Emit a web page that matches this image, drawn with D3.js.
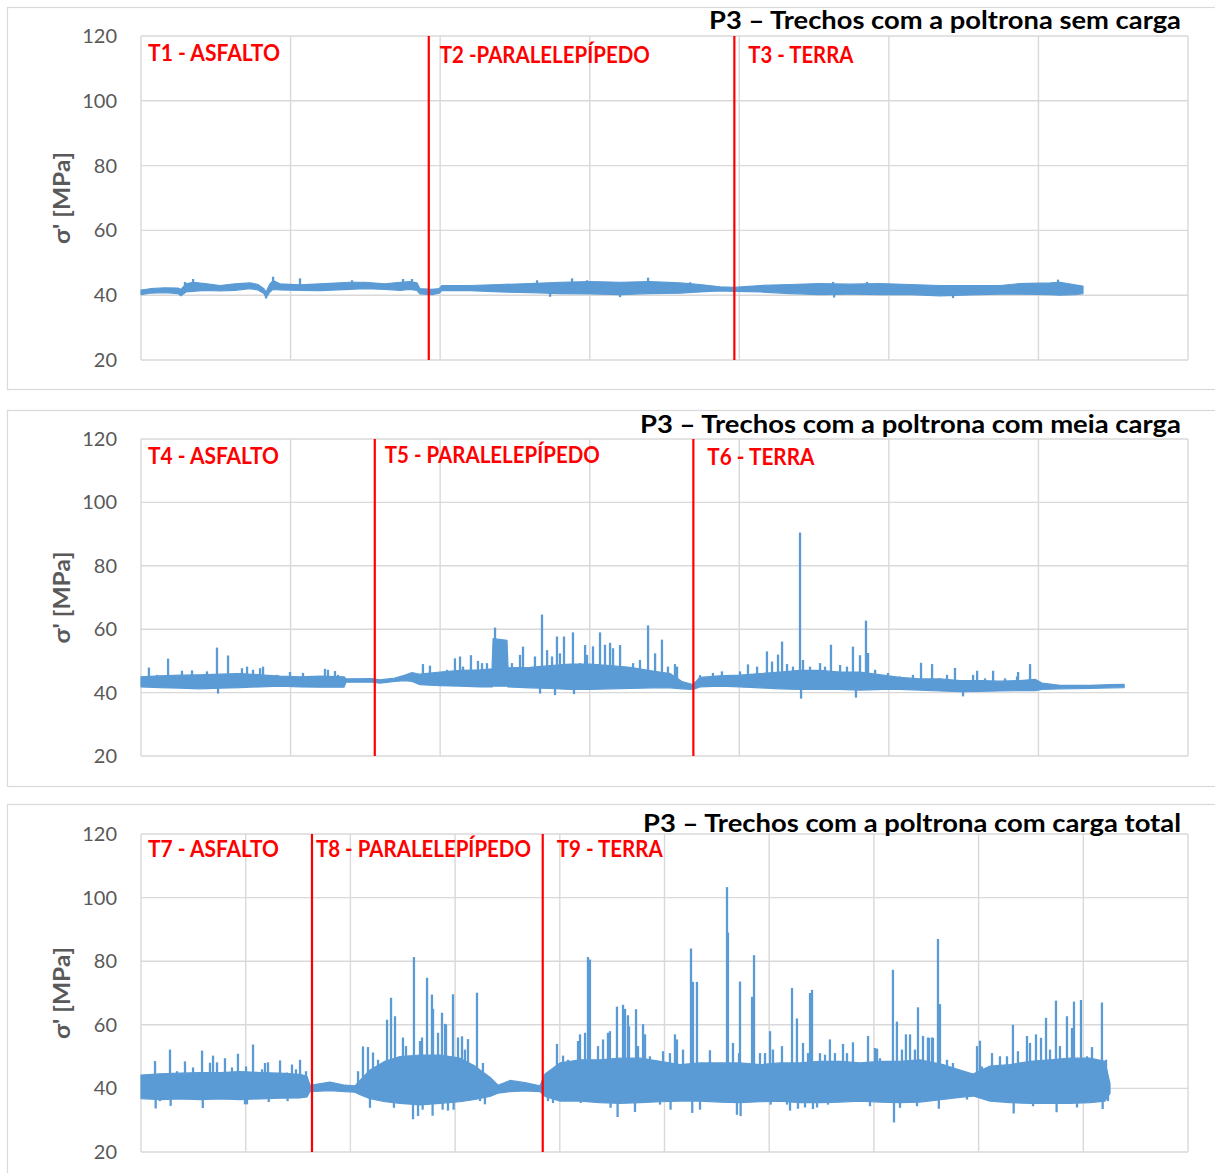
<!DOCTYPE html>
<html>
<meta charset="utf-8" />
<head>
<title>P3 - Trechos com a poltrona</title>
<style>
body { margin: 0; background: #fff; }
svg { display: block; }
svg text { font-family: Lato, "Open Sans", sans-serif; }
</style>
<script src="https://cdn.jsdelivr.net/npm/d3@7"></script>
</head>
<body>
<svg class="chart"></svg>
<script>

/*******************************
 * Data  *
 * band rows: [sample, min, max]   (dense core of the signal)
 * spike rows: [sample, peak]      (single excursions)
 *******************************/
var titles = [
  "P3 \u2013 Trechos com a poltrona sem carga",
  "P3 \u2013 Trechos com a poltrona com meia carga",
  "P3 \u2013 Trechos com a poltrona com carga total"
];
var yTicks = [20, 40, 60, 80, 100, 120];
var yLabel = "\u03c3' [MPa]";

var p1Labels = ["T1 - ASFALTO", "T2 -PARALELEPÍPEDO", "T3 - TERRA"];
var p1Cuts = [1924, 3967];
var p1Band = [
  [0,40.2,41.6],[60,40.6,42.0],[160,40.8,42.3],[247,40.5,42.2],[267,39.8,41.8],
  [301,41.0,43.5],[348,41.2,44.0],[428,41.5,43.6],[528,41.3,43.0],[628,41.5,43.5],
  [729,42.0,43.8],[782,41.6,43.3],[822,40.5,42.0],[836,39.2,41.0],[862,41.0,43.5],
  [883,41.8,44.5],[929,41.6,43.5],[1063,41.5,43.2],[1197,41.4,43.5],[1397,41.8,44.0],
  [1498,42.0,44.0],[1631,41.8,43.5],[1732,41.5,44.0],[1798,41.8,44.2],[1845,41.5,43.8],
  [1865,40.4,42.0],[1946,40.2,41.8],[1993,40.6,42.0],[2013,41.5,43.0],[2200,41.4,43.0],
  [2400,41.0,43.3],[2601,40.8,43.6],[2801,40.5,44.0],[3002,40.4,44.2],[3203,40.2,44.0],
  [3403,40.5,44.2],[3604,40.6,43.8],[3738,41.0,43.3],[3871,41.3,42.6],[3965,41.2,42.4],
  [4139,41.0,43.0],[4339,40.5,43.3],[4540,40.2,43.6],[4740,40.3,43.4],[4941,40.2,43.6],
  [5142,40.2,43.3],[5342,39.8,43.0],[5543,40.1,43.0],[5743,40.3,43.0],[5877,40.3,43.6],
  [6078,40.2,43.8],[6144,40.0,44.0],[6245,40.2,43.2],[6298,40.5,42.8]
];
var p1Spikes = [
  [294,44.1],[348,45.0],[836,39.0],[883,45.7],[1063,45.2],[1411,44.6],[1752,45.0],
  [1812,45.0],[2648,44.6],[2735,39.5],[2882,45.2],[2982,44.6],[3203,39.4],[3390,45.4],
  [3671,44.0],[4627,44.1],[4634,39.3],[4854,44.1],[5429,39.1],[6131,44.8]
];

var p2Labels = ["T4 - ASFALTO", "T5 - PARALELEPÍPEDO", "T6 - TERRA"];
var p2Cuts = [1563, 3693];
var p2Band = [
  [0,41.8,45.0],[127,41.6,45.3],[261,41.4,45.5],[394,41.2,45.6],[528,41.4,45.8],
  [662,41.6,46.0],[796,41.8,45.6],[929,42.0,45.2],[1063,41.8,45.0],[1197,41.7,45.2],
  [1357,41.7,45.0],[1371,43.3,44.3],[1544,43.3,44.4],[1598,43.0,44.0],[1698,43.5,44.6],
  [1765,43.8,45.5],[1812,43.5,46.3],[1865,42.5,45.8],[2000,42.2,46.5],[2133,42.0,47.0],
  [2267,41.8,47.2],[2347,41.8,47.5],[2354,42.0,57.0],[2447,42.0,56.5],[2454,41.8,47.8],
  [2601,41.5,48.0],[2735,41.3,48.5],[2868,41.0,49.0],[3002,41.0,49.0],[3136,41.2,48.5],
  [3270,41.3,48.0],[3423,41.5,46.8],[3537,41.5,46.0],[3617,41.2,43.5],[3690,41.0,42.5],
  [3737,41.8,44.8],[3871,42.0,45.3],[4005,41.8,45.5],[4139,41.5,46.0],[4272,41.2,46.5],
  [4406,41.0,47.0],[4540,41.0,47.0],[4674,41.0,46.5],[4807,40.8,46.5],[4961,41.0,45.5],
  [5075,41.0,44.8],[5208,40.8,44.3],[5342,40.5,44.3],[5476,40.3,43.8],[5610,40.4,43.8],
  [5743,40.5,43.6],[5877,40.6,43.8],[5977,40.6,44.2],[6024,41.0,43.0],[6144,41.2,42.3],
  [6345,41.3,42.3],[6479,41.5,42.5],[6573,41.6,42.6]
];
var p2Spikes = [
  [53,47.9],[107,45.6],[181,50.7],[227,45.1],[274,46.9],[341,47.0],[394,44.5],[441,46.7],
  [508,54.2],[515,39.7],[582,51.7],[642,46.2],[675,47.7],[709,48.2],[749,47.2],[796,47.7],
  [816,48.2],[909,45.6],[996,46.5],[1016,45.1],[1083,46.2],[1163,44.5],[1230,47.5],
  [1250,47.2],[1297,46.8],[1317,45.6],
  [1885,49.0],[1932,48.5],[2046,47.2],[2099,50.8],[2133,51.4],[2153,48.2],[2206,51.8],
  [2253,50.0],[2280,49.3],[2313,49.3],[2367,60.5],[2480,49.3],[2534,51.9],[2554,54.5],
  [2634,51.4],[2668,39.7],[2681,64.6],[2715,53.4],[2748,51.4],[2768,39.2],[2781,57.7],
  [2801,52.4],[2828,57.7],[2888,59.0],[2895,39.5],[2935,49.3],[2969,55.0],[2982,51.9],
  [3022,54.6],[3069,59.0],[3102,55.1],[3136,55.7],[3156,54.0],[3203,55.0],[3290,49.3],
  [3336,50.3],[3390,61.2],[3437,52.4],[3483,56.7],[3523,48.2],[3570,49.0],[3584,48.2],
  [3737,45.5],[3824,46.2],[3884,46.7],[4005,46.7],[4058,48.9],[4119,48.2],[4185,53.0],
  [4219,49.8],[4259,52.0],[4286,56.1],[4319,49.0],[4359,48.2],[4406,90.5],[4413,38.1],
  [4426,50.3],[4473,48.2],[4540,49.3],[4573,48.2],[4613,55.1],[4674,48.7],[4720,48.2],
  [4760,54.5],[4780,38.4],[4807,51.8],[4847,62.7],[4861,52.5],[4908,47.2],[4994,46.2],
  [5075,45.1],[5161,45.6],[5215,49.4],[5289,49.0],[5342,44.5],[5389,45.6],[5442,47.8],
  [5496,38.8],[5563,45.6],[5590,46.9],[5643,44.5],[5697,46.9],[5777,44.5],[5857,45.1],
  [5864,46.5],[5944,49.0]
];

var p3Labels = ["T7 - ASFALTO", "T8 - PARALELEPÍPEDO", "T9 - TERRA"];
var p3Cuts = [1633, 3837];
var p3Band = [
  [0,36.8,44.2],[181,36.5,44.6],[372,36.7,44.8],[564,36.5,45.0],[755,36.7,45.0],
  [946,36.5,45.3],[1137,36.7,45.0],[1328,36.9,44.8],[1519,37.0,44.4],[1585,37.3,43.8],
  [1614,39.0,41.0],[1805,39.3,42.0],[1948,39.0,41.0],[2044,38.8,40.8],[2092,38.0,42.5],
  [2187,36.8,45.8],[2330,35.8,48.5],[2474,35.3,50.0],[2665,34.8,50.5],[2856,35.3,50.5],
  [3047,35.8,49.5],[3190,36.5,47.0],[3333,37.5,43.5],[3410,38.5,41.0],[3524,39.0,42.5],
  [3668,39.2,41.8],[3811,39.0,40.8],[3859,37.5,44.5],[4002,36.0,48.0],[4193,36.0,49.0],
  [4384,35.5,49.0],[4575,35.3,49.5],[4766,35.5,49.5],[4957,35.8,48.5],[5148,36.0,47.5],
  [5339,36.0,48.0],[5530,35.7,48.0],[5721,35.5,48.0],[5912,35.8,47.5],[6103,36.0,48.0],
  [6294,35.5,48.0],[6485,35.5,48.5],[6676,35.7,48.5],[6867,36.0,48.0],[7058,35.7,48.5],
  [7249,35.5,48.5],[7440,35.7,49.0],[7660,36.5,47.5],[7822,37.2,45.8],[7947,37.6,44.5],
  [8109,36.0,47.0],[8300,35.5,47.5],[8491,35.3,48.5],[8682,35.3,49.0],[8873,35.3,49.5],
  [9064,35.5,49.5],[9207,36.0,48.5],[9255,38.5,41.5]
];
var p3Spikes = [
  // T7
  [134,48.6],[140,33.7],[181,36.0],[277,52.2],[283,34.5],[344,45.4],[420,48.5],[497,46.6],
  [583,51.9],[590,33.8],[659,48.1],[688,50.3],[726,48.2],[802,49.5],[869,46.6],[926,50.9],
  [993,35.0],[1003,46.9],[1012,35.0],[1070,53.8],[1156,46.0],[1184,48.0],[1213,48.2],
  [1220,35.7],[1328,48.8],[1394,45.0],[1400,36.0],[1442,47.5],[1480,46.0],[1519,49.0],
  [1576,45.4],
  // T8
  [2073,45.4],[2120,53.2],[2168,53.0],[2187,33.9],[2216,51.3],[2264,49.0],[2350,61.6],
  [2388,68.5],[2416,33.9],[2426,62.7],[2502,56.0],[2531,53.3],[2598,30.3],[2607,81.3],
  [2646,31.3],[2665,54.9],[2684,56.0],[2690,33.3],[2732,74.8],[2779,69.5],[2785,31.4],
  [2789,65.0],[2837,57.5],[2875,63.8],[2881,33.3],[2904,60.3],[2913,60.1],[2932,33.0],
  [2980,69.6],[2986,33.3],[3028,56.0],[3066,56.4],[3094,52.2],[3123,55.5],[3209,70.1],
  [3238,36.0],[3266,48.0],[3285,35.0],
  // T9
  [3887,36.0],[3935,35.4],[3973,54.0],[4031,50.3],[4078,49.0],[4174,54.9],[4193,57.0],
  [4199,35.4],[4241,57.5],[4269,81.3],[4288,80.5],[4365,53.3],[4413,55.4],[4460,57.5],
  [4479,58.0],[4485,33.9],[4546,65.7],[4552,31.0],[4604,66.3],[4623,65.0],[4651,63.0],
  [4661,59.5],[4718,32.6],[4728,64.9],[4747,53.3],[4795,60.2],[4814,57.0],[4861,50.1],
  [4928,48.0],[4957,34.9],[4986,51.7],[5052,51.1],[5058,33.3],[5100,57.0],[5119,55.4],
  [5177,52.2],[5253,84.0],[5265,32.3],[5272,73.5],[5310,73.5],[5339,33.3],[5368,45.9],
  [5434,52.0],[5501,45.9],[5597,103.3],[5606,89.0],[5654,54.3],[5692,31.7],[5712,51.1],
  [5721,73.6],[5727,31.3],[5778,46.9],[5836,68.8],[5855,81.9],[5912,51.1],[5960,51.1],
  [6008,58.0],[6014,34.9],[6036,52.2],[6122,53.3],[6170,34.9],[6199,33.0],[6218,71.6],
  [6265,62.0],[6275,33.6],[6323,54.3],[6342,34.0],[6371,51.1],[6390,70.0],[6409,71.0],
  [6418,33.5],[6457,34.0],[6485,51.1],[6533,50.6],[6562,34.9],[6580,55.4],[6628,51.1],
  [6705,54.0],[6743,51.1],[6800,54.5],[6886,48.0],[6944,56.5],[6963,34.4],[7010,52.7],
  [7030,52.5],[7058,49.5],[7125,45.4],[7182,77.3],[7192,29.3],[7220,61.0],[7249,33.9],
  [7268,52.2],[7306,57.0],[7345,57.0],[7392,52.2],[7412,34.4],[7421,65.5],[7469,56.5],
  [7516,56.0],[7526,55.9],[7555,56.0],[7564,55.9],[7612,87.0],[7620,33.6],[7631,66.5],
  [7698,49.0],[7755,48.0],[7822,45.4],[7889,36.5],[7985,53.3],[8013,55.0],[8032,46.9],
  [8128,51.1],[8204,50.1],[8271,50.1],[8328,60.0],[8335,32.1],[8376,51.7],[8462,56.5],
  [8491,54.3],[8520,34.4],[8548,57.0],[8596,55.9],[8644,62.2],[8682,52.2],[8739,67.6],
  [8745,32.5],[8777,53.3],[8844,62.7],[8892,59.0],[8911,67.3],[8940,34.0],[8978,67.8],
  [9035,50.1],[9083,53.0],[9178,67.0],[9185,33.5],[9217,49.0],[9236,36.0]
];

/*******************************
 * Layout                      *
 *******************************/
var width = 1215;
var height = 1173;
var plotLeft = 141;
var plotRight = 1188;
var BLUE = "#5B9BD5";
var GRID = "#D9D9D9";

var panels = [
  { box: [7, 389], plot: [36, 360], xMax: 7000, xStep: 1000,
    band: p1Band, spikes: p1Spikes, cuts: p1Cuts, labels: p1Labels, title: titles[0],
    titleY: 29, titleW: 472, labelY: [61, 63, 63], labelDx: [7, 11, 14], labelW: [132, 210, 105] },
  { box: [410, 786], plot: [439, 756], xMax: 7000, xStep: 1000,
    band: p2Band, spikes: p2Spikes, cuts: p2Cuts, labels: p2Labels, title: titles[1],
    titleY: 433, titleW: 541, labelY: [464, 463, 465], labelDx: [7, 10, 14], labelW: [131, 215, 107] },
  { box: [804, 1190], plot: [834, 1152], xMax: 10000, xStep: 1000,
    band: p3Band, spikes: p3Spikes, cuts: p3Cuts, labels: p3Labels, title: titles[2],
    titleY: 832, titleW: 538, labelY: [857, 857, 857], labelDx: [7, 4, 14], labelW: [131, 215, 106] }
];

var svg = d3.select(".chart")
    .attr("width", width)
    .attr("height", height);

panels.forEach(draw_panel);

// middle of the band at a given sample, used as spike base
function band_mid(band, t) {
  var i = d3.bisector(function(d) { return d[0]; }).left(band, t);
  if (i <= 0) return (band[0][1] + band[0][2]) / 2;
  if (i >= band.length) { var l = band[band.length - 1]; return (l[1] + l[2]) / 2; }
  var a = band[i - 1], b = band[i];
  var k = (t - a[0]) / (b[0] - a[0]);
  return ((a[1] + a[2]) / 2) * (1 - k) + ((b[1] + b[2]) / 2) * k;
}

function draw_panel(p) {
  var g = svg.append("g");

  // outer frame
  g.append("rect")
      .attr("x", 7.5).attr("y", p.box[0] + 0.5)
      .attr("width", 1220).attr("height", p.box[1] - p.box[0])
      .attr("fill", "none").attr("stroke", GRID).attr("stroke-width", 1.2);

  var x = d3.scaleLinear().domain([0, p.xMax]).range([plotLeft, plotRight]);
  var y = d3.scaleLinear().domain([20, 120]).range([p.plot[1], p.plot[0]]);

  // grid
  g.append("g").selectAll("line")
      .data(yTicks).enter().append("line")
      .attr("x1", plotLeft).attr("x2", plotRight)
      .attr("y1", function(d) { return y(d); }).attr("y2", function(d) { return y(d); })
      .attr("stroke", GRID).attr("stroke-width", 1.4);

  g.append("g").selectAll("line")
      .data(d3.range(0, p.xMax + 1, p.xStep)).enter().append("line")
      .attr("x1", function(d) { return x(d); }).attr("x2", function(d) { return x(d); })
      .attr("y1", y(120)).attr("y2", y(20))
      .attr("stroke", GRID).attr("stroke-width", 1.4);

  // y axis
  var yAxis = d3.axisLeft(y).tickValues(yTicks).tickSize(0).tickPadding(24);
  var ag = g.append("g")
      .attr("transform", "translate(" + plotLeft + ",0)")
      .call(yAxis);
  ag.select(".domain").remove();
  ag.selectAll("text")
      .attr("fill", "#595959")
      .style("font-size", "20px")
      .style("font-family", "Lato, 'Open Sans', sans-serif");

  g.append("text")
      .attr("transform", "translate(61," + ((p.plot[0] + p.plot[1]) / 2) + ") rotate(-90)")
      .attr("text-anchor", "middle")
      .attr("dominant-baseline", "central")
      .attr("fill", "#595959")
      .style("font-size", "22px")
      .style("font-weight", "bold")
      .attr("textLength", 92)
      .attr("lengthAdjust", "spacingAndGlyphs")
      .text(yLabel);

  // signal core band
  var area = d3.area()
      .x(function(d) { return x(d[0]); })
      .y0(function(d) { return y(d[1]); })
      .y1(function(d) { return y(d[2]); });

  g.append("path")
      .datum(p.band)
      .attr("d", area)
      .attr("fill", BLUE)
      .attr("stroke", BLUE)
      .attr("stroke-width", 1.2)
      .attr("stroke-linejoin", "round");

  // spikes
  g.append("g").selectAll("line")
      .data(p.spikes).enter().append("line")
      .attr("x1", function(d) { return x(d[0]); })
      .attr("x2", function(d) { return x(d[0]); })
      .attr("y1", function(d) { return y(band_mid(p.band, d[0])); })
      .attr("y2", function(d) { return y(d[1]); })
      .attr("stroke", BLUE)
      .attr("stroke-width", 2.3);

  // section dividers
  g.append("g").selectAll("line")
      .data(p.cuts).enter().append("line")
      .attr("x1", function(d) { return x(d); }).attr("x2", function(d) { return x(d); })
      .attr("y1", y(120)).attr("y2", y(20))
      .attr("stroke", "#FF0000").attr("stroke-width", 2.2);

  // section labels
  var starts = [0].concat(p.cuts);
  g.append("g").selectAll("text")
      .data(p.labels).enter().append("text")
      .attr("x", function(d, i) { return x(starts[i]) + p.labelDx[i]; })
      .attr("y", function(d, i) { return p.labelY[i]; })
      .attr("fill", "#FF0000")
      .style("font-size", "22px")
      .style("font-weight", "bold")
      .attr("textLength", function(d, i) { return p.labelW[i]; })
      .attr("lengthAdjust", "spacingAndGlyphs")
      .text(function(d) { return d; });

  // title
  g.append("text")
      .attr("x", 1181)
      .attr("y", p.titleY)
      .attr("text-anchor", "end")
      .attr("fill", "#000")
      .style("font-size", "24px")
      .style("font-weight", "bold")
      .attr("textLength", p.titleW)
      .attr("lengthAdjust", "spacingAndGlyphs")
      .text(p.title);
}

</script>
</body>
</html>
